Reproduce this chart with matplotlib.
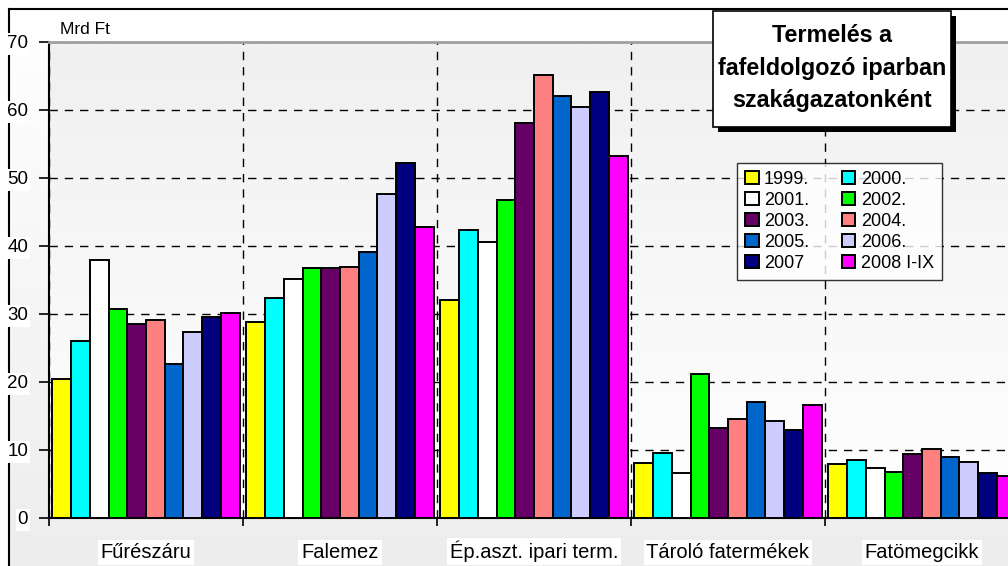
import numpy as np
import matplotlib
matplotlib.use("Agg")
from matplotlib import pyplot as plt
from matplotlib.colors import LinearSegmentedColormap
from matplotlib.patches import Rectangle, Patch

plt.rcParams['font.family'] = ['Liberation Sans', 'DejaVu Sans']

# adatok (Mrd Ft)
categories = ['Fűrészáru', 'Falemez', 'Ép.aszt. ipari term.', 'Tároló fatermékek', 'Fatömegcikk']
years = ['1999.', '2000.', '2001.', '2002.', '2003.', '2004.', '2005.', '2006.', '2007', '2008 I-IX']
colors = ['#ffff00', '#00ffff', '#ffffff', '#00ff00', '#660066',
          '#ff8080', '#0066cc', '#ccccff', '#000080', '#ff00ff']

v1999 = [20.5, 28.8, 32.1, 8.1, 7.9]
v2000 = [26.1, 32.3, 42.3, 9.6, 8.5]
v2001 = [38.0, 35.2, 40.6, 6.6, 7.4]
v2002 = [30.8, 36.7, 46.7, 21.2, 6.7]
v2003 = [28.6, 36.7, 58.1, 13.2, 9.4]
v2004 = [29.1, 36.9, 65.2, 14.6, 10.2]
v2005 = [22.7, 39.1, 62.0, 17.1, 9.0]
v2006 = [27.4, 47.6, 60.4, 14.2, 8.2]
v2007 = [29.6, 52.2, 62.6, 13.0, 6.6]
v2008 = [30.2, 42.8, 53.3, 16.6, 6.2]
series = [v1999, v2000, v2001, v2002, v2003, v2004, v2005, v2006, v2007, v2008]

W, H = 1008, 566
fig = plt.figure(figsize=(W / 100, H / 100), dpi=100)
fig.patch.set_facecolor('white')

# háttér keret, fentről lefelé szürkülő
bg = fig.add_axes([9 / W, 0, 1 - 9 / W, 1 - 9 / H], zorder=-5)
cm_bg = LinearSegmentedColormap.from_list('bg', ['#ededed', '#ffffff'])
bg.imshow(np.linspace(0, 1, 256).reshape(-1, 1), cmap=cm_bg, origin='lower',
          extent=[0, 1, 0, 1], aspect='auto')
bg.set_xlim(0, 1)
bg.set_ylim(0, 1)
bg.set_xticks([])
bg.set_yticks([])
for s in ['right', 'bottom']:
    bg.spines[s].set_visible(False)
for s in ['left', 'top']:
    bg.spines[s].set_linewidth(1.5)

# fő diagram (jobb oldalt kilóg a képből)
ax = fig.add_axes([49 / W, 48 / H, 970 / W, 476 / H])
n = len(categories)
cm_ax = LinearSegmentedColormap.from_list('ax', ['#ffffff', '#f0f0f0'])
ax.imshow(np.linspace(0, 1, 256).reshape(-1, 1), cmap=cm_ax, origin='lower',
          extent=[0, n, 0, 70], aspect='auto', zorder=0)

x = np.arange(n)
bw = 0.0965
for j, (vals, c, lab) in enumerate(zip(series, colors, years)):
    ax.bar(x + 0.5 - 5 * bw + j * bw, vals, width=bw, align='edge', color=c,
           edgecolor='black', linewidth=1.4, label=lab, zorder=3)

ax.set_xlim(0, n)
ax.set_ylim(0, 70)
ax.set_yticks(np.arange(0, 71, 10))
ax.set_xticks(np.arange(0, n + 1))
ax.set_xticklabels([])
ax.tick_params(axis='x', which='major', length=6, width=1.2, direction='out')
ax.tick_params(axis='y', length=7, width=1.2, labelsize=13.5, pad=8)
for lbl in ax.get_yticklabels():
    lbl.set_bbox(dict(facecolor='white', edgecolor='none', pad=1.5))

# kategória feliratok
for i, cat in enumerate(categories):
    ax.text(i + 0.5, -40 / 476, cat, transform=ax.get_xaxis_transform(),
            ha='center', va='baseline', fontsize=14.5,
            bbox=dict(facecolor='white', edgecolor='none', pad=2))

ax.grid(True, which='major', color='black', linestyle=(0, (6, 5)), linewidth=1.0)
ax.set_axisbelow(True)
ax.spines['left'].set_linewidth(1.5)
ax.spines['bottom'].set_linewidth(1.5)
ax.spines['top'].set_color('#a0a0a0')
ax.spines['top'].set_linewidth(2)
ax.spines['right'].set_visible(False)

fig.text(60 / W, 1 - 34 / H, 'Mrd Ft', fontsize=12.5, va='baseline', ha='left',
         bbox=dict(facecolor='white', edgecolor='none', pad=1))

# cím doboz árnyékkal
fig.add_artist(Rectangle((718 / W, 1 - 132 / H), 238 / W, 116 / H,
                         transform=fig.transFigure, facecolor='black',
                         edgecolor='none', zorder=10))
fig.add_artist(Rectangle((713 / W, 1 - 127 / H), 238 / W, 116 / H,
                         transform=fig.transFigure, facecolor='white',
                         edgecolor='black', linewidth=1.2, zorder=11))
fig.text(832 / W, 1 - 68 / H, 'Termelés a\nfafeldolgozó iparban\nszakágazatonként',
         ha='center', va='center', fontsize=16.8, fontweight='bold',
         linespacing=1.5, zorder=12)

# jelmagyarázat soronként kitöltve
order = [0, 2, 4, 6, 8, 1, 3, 5, 7, 9]
handles = [Patch(facecolor=colors[i], edgecolor='black', linewidth=1.4) for i in order]
labels = [years[i] for i in order]
leg = fig.legend(handles, labels, ncol=2, loc='upper left',
                 bbox_to_anchor=(737 / W, 1 - 163 / H), borderaxespad=0,
                 fontsize=13, frameon=True, fancybox=False, edgecolor='black',
                 handlelength=0.75, handleheight=0.75, handletextpad=0.3,
                 columnspacing=1.8, labelspacing=0.22, borderpad=0.45)
leg.get_frame().set_linewidth(1.0)
leg.set_zorder(12)

fig.savefig('out.png', dpi=100)
